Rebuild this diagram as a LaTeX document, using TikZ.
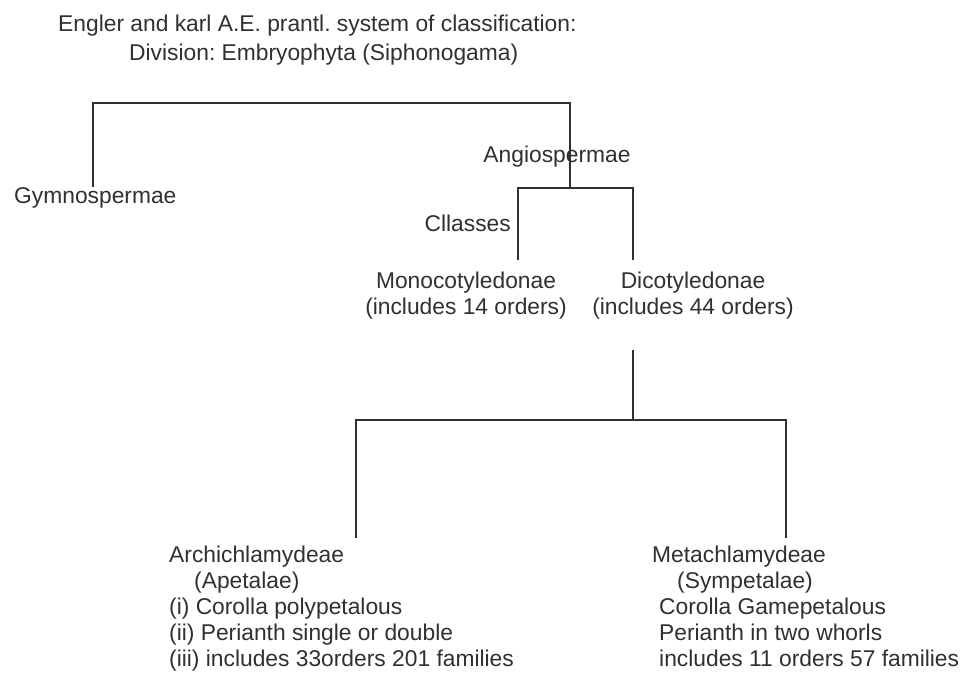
\documentclass[tikz,border=0pt]{standalone}
\usepackage{fontspec}
\setmainfont{Liberation Sans}
\definecolor{inkgray}{HTML}{303030}
\frenchspacing
\begin{document}
\begin{tikzpicture}[x=1pt,y=-1pt,
    label/.style={inner sep=0pt,text=inkgray,font=\fontsize{22.8}{26}\selectfont},
    branch/.style={draw=inkgray,line width=1.3pt}]
    \useasboundingbox (0,0) rectangle (966,672);

    % headings
    \node[label,anchor=base west] (title) at (58,31) {Engler and karl A.E. prantl. system of classification:};
    \node[label,anchor=base west] (division) at (129,60) {Division: Embryophyta (Siphonogama)};

    % first split
    \node[label,anchor=base west] (gym) at (14,203) {Gymnospermae};
    \node[label] (angio) at (557,157) {Angiospermae};
    \coordinate (J1L) at (93,103);
    \coordinate (J1R) at (570,103);
    \coordinate (J2L) at (518,188);
    \coordinate (J2R) at (633,188);
    \draw[branch] (J1L |- gym.north) -- (J1L) -- (J1R) -- (J1R |- J2L);

    % classes
    \node[label,anchor=east] (cls) at (511,223) {Cllasses};
    \node[label,align=center,anchor=north] (mono) at (466,272) {Monocotyledonae\\(includes 14 orders)};
    \node[label,align=center,anchor=north] (dico) at (693,272) {Dicotyledonae\\(includes 44 orders)};
    \draw[branch,shorten <=12pt,shorten >=12pt] (J2L |- mono.north) -- (J2L) -- (J2R) -- (J2R |- dico.north);

    % subclasses
    \coordinate (J3) at (633,420);
    \coordinate (J3L) at (356,420);
    \coordinate (J3R) at (786,420);
    \node[label,align=left,anchor=north west] (archi) at (169,546) {Archichlamydeae\\
        \hspace*{25pt}(Apetalae)\\
        (i) Corolla polypetalous\\
        (ii) Perianth single or double\\
        (iii) includes 33orders 201 families};
    \node[label,align=left,anchor=north west] (meta) at (652,546) {Metachlamydeae\\
        \hspace*{25pt}(Sympetalae)\\
        \hspace*{7pt}Corolla Gamepetalous\\
        \hspace*{7pt}Perianth in two whorls\\
        \hspace*{7pt}includes 11 orders 57 families};
    \draw[branch,shorten <=30pt] (dico.south -| J3) -- (J3);
    \draw[branch,shorten <=8pt,shorten >=8pt] (J3L |- archi.north) -- (J3L) -- (J3R) -- (J3R |- meta.north);
\end{tikzpicture}
\end{document}
